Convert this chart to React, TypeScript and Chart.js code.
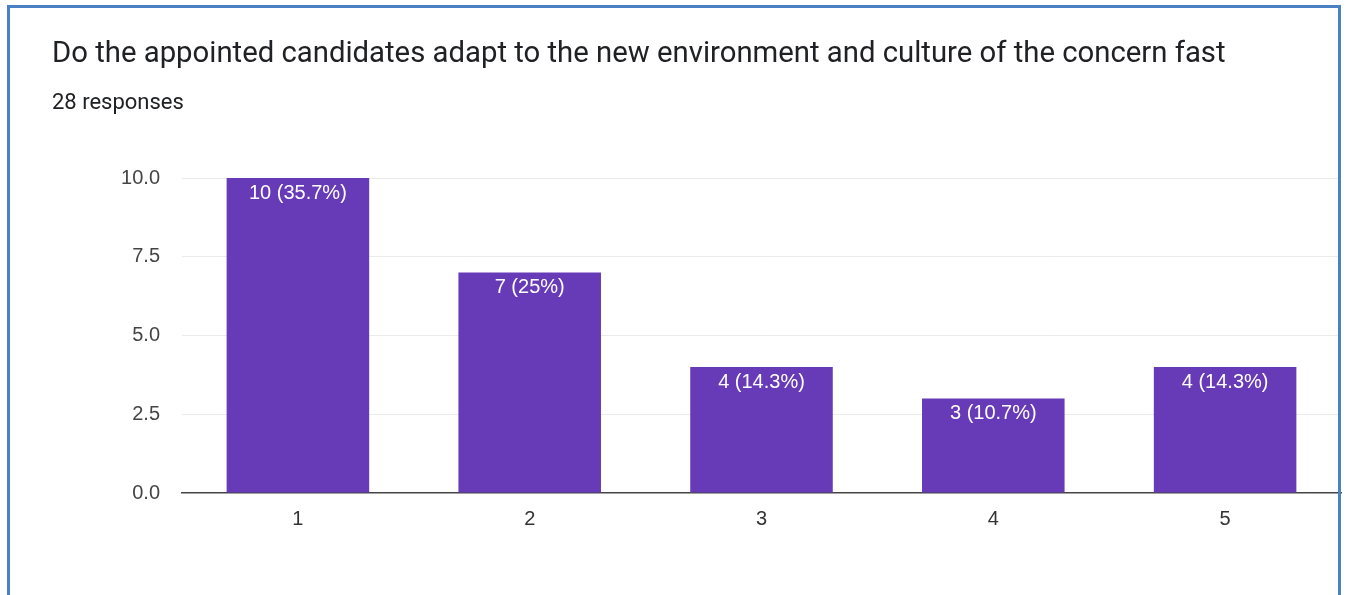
import React, { useEffect, useRef } from "react";
import { Chart, registerables } from "chart.js";

Chart.register(...registerables);

const TITLE = "Do the appointed candidates adapt to the new environment and culture of the concern fast";
const SUBTITLE = "28 responses";
const categories = ["1", "2", "3", "4", "5"];
const counts = [10, 7, 4, 3, 4];
const yTicks = [0, 2.5, 5, 7.5, 10];

const BAR_COLOR = "#673ab7";
const CHART_FONT = "'Liberation Sans', Arial, sans-serif";

const barLabelPlugin = {
  id: "barLabels",
  afterDatasetsDraw(chart: any) {
    const ctx = chart.ctx;
    const meta = chart.getDatasetMeta(0);
    const data = chart.data.datasets[0].data as number[];
    const total = data.reduce((a, b) => a + b, 0);
    ctx.save();
    ctx.fillStyle = "#ffffff";
    ctx.font = `20px ${CHART_FONT}`;
    ctx.textAlign = "center";
    ctx.textBaseline = "middle";
    meta.data.forEach((bar: any, i: number) => {
      const v = data[i];
      const pct = parseFloat(((v / total) * 100).toFixed(1));
      ctx.fillText(`${v} (${pct}%)`, bar.x, bar.y + 15);
    });
    ctx.restore();
  },
};

export default function App() {
  const canvasRef = useRef<HTMLCanvasElement>(null);

  useEffect(() => {
    if (!canvasRef.current) return;
    const chart = new Chart(canvasRef.current, {
      type: "bar",
      data: {
        labels: categories,
        datasets: [
          {
            data: counts,
            backgroundColor: BAR_COLOR,
            borderWidth: 0,
            barPercentage: 0.615,
            categoryPercentage: 1,
          },
        ],
      },
      options: {
        responsive: false,
        animation: false,
        layout: { padding: { left: 0, top: 178, right: 5, bottom: 0 } },
        plugins: {
          legend: { display: false },
          tooltip: { enabled: false },
        },
        scales: {
          x: {
            grid: { display: false, drawTicks: false },
            border: { display: true, color: "#444", width: 1.5 },
            ticks: {
              color: "#333",
              font: { size: 20, family: CHART_FONT },
              padding: 14,
            },
            afterFit(scale: any) {
              scale.height = 102;
            },
          },
          y: {
            min: 0,
            max: 10,
            afterBuildTicks(scale: any) {
              scale.ticks = yTicks.map((v) => ({ value: v }));
            },
            grid: {
              color: (c: any) => (c.tick && c.tick.value === 0 ? "rgba(0,0,0,0)" : "#ebebeb"),
              drawTicks: false,
              lineWidth: 1,
            },
            border: { display: false },
            ticks: {
              color: "#444",
              font: { size: 20, family: CHART_FONT },
              padding: 22,
              callback: (v: any) => Number(v).toFixed(1),
            },
            afterFit(scale: any) {
              scale.width = 182;
            },
          },
        },
      },
      plugins: [barLabelPlugin],
    });
    return () => chart.destroy();
  }, []);

  return (
    <div
      style={{
        position: "fixed",
        left: 0,
        top: 0,
        width: 1346,
        height: 595,
        overflow: "hidden",
        background: "#ffffff",
      }}
    >
      <canvas
        ref={canvasRef}
        width={1346}
        height={595}
        style={{ position: "absolute", left: 0, top: 0, width: 1346, height: 595 }}
      />
      <div
        style={{
          position: "absolute",
          left: 7,
          top: 5,
          width: 1328,
          height: 700,
          borderTop: "3px solid #4a80c4",
          borderLeft: "3px solid #4a80c4",
          borderRight: "3px solid #4a80c4",
          pointerEvents: "none",
        }}
      />
      <div
        style={{
          position: "absolute",
          left: 52,
          top: 34,
          fontFamily: "Roboto, 'Noto Sans', sans-serif",
          fontSize: 29.3,
          lineHeight: "36px",
          color: "#202124",
          whiteSpace: "nowrap",
        }}
      >
        {TITLE}
      </div>
      <div
        style={{
          position: "absolute",
          left: 52,
          top: 88,
          fontFamily: "Roboto, 'Noto Sans', sans-serif",
          fontSize: 22,
          lineHeight: "28px",
          color: "#202124",
          whiteSpace: "nowrap",
        }}
      >
        {SUBTITLE}
      </div>
    </div>
  );
}
